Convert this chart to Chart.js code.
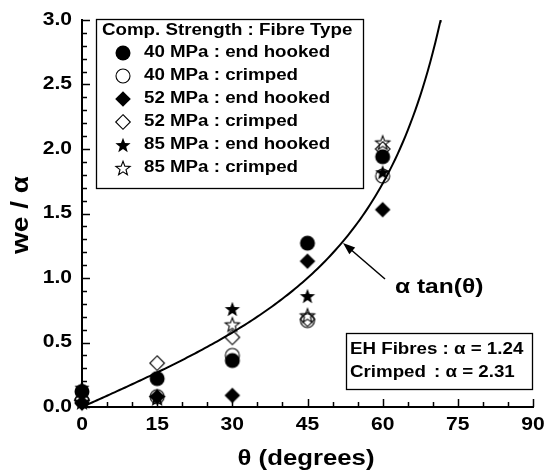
<!DOCTYPE html>
<html>
<head>
<meta charset="utf-8">
<script src="https://cdn.jsdelivr.net/npm/chart.js@4.4.1/dist/chart.umd.min.js"></script>
<style>
  html, body { margin: 0; padding: 0; background: #fff; }
</style>
</head>
<body>
<canvas id="chart" width="545" height="473"></canvas>
<script>
// Data (we/alpha against fibre angle)
const angles = [0, 15, 30, 45, 60];
const mpa40EndHooked = [0.12, 0.22, 0.36, 1.27, 1.94];
const mpa40Crimped   = [0.05, 0.08, 0.40, 0.67, 1.79];
const mpa52EndHooked = [0.03, 0.08, 0.09, 1.13, 1.53];
const mpa52Crimped   = [0.06, 0.34, 0.54, 0.68, 2.00];
const mpa85EndHooked = [0.15, 0.08, 0.76, 0.86, 1.82];
const mpa85Crimped   = [0.04, 0.07, 0.64, 0.71, 2.05];

const seriesLabels = [
  '40 MPa : end hooked', '40 MPa : crimped',
  '52 MPa : end hooked', '52 MPa : crimped',
  '85 MPa : end hooked', '85 MPa : crimped'
];
const xTicks = [0, 15, 30, 45, 60, 75, 90];
const yTicks = [0.0, 0.5, 1.0, 1.5, 2.0, 2.5, 3.0];

// model curve: alpha * tan(theta), normalised by alpha
const fitCoef = 1.0;
const curveStep = 0.5;
const curveEnd = Math.atan(3.0 / fitCoef) * 180 / Math.PI;

const FONT = '"Liberation Sans", Arial, sans-serif';
const SX = 1.17; // the original lettering is a little wider than Arial

function makeMarker(shape, filled) {
  const s = 20, m = s / 2;
  const c = document.createElement('canvas');
  c.width = s; c.height = s;
  const g = c.getContext('2d');
  g.strokeStyle = '#000';
  g.fillStyle = '#000';
  g.lineWidth = 1.1;
  g.beginPath();
  if (shape === 'circle') {
    g.arc(m, m, filled ? 7.5 : 7, 0, Math.PI * 2);
  } else if (shape === 'diamond') {
    const r = filled ? 7.8 : 7.3;
    g.moveTo(m, m - r); g.lineTo(m + r, m); g.lineTo(m, m + r); g.lineTo(m - r, m);
    g.closePath();
  } else {
    const ro = filled ? 8 : 7.5, ri = ro * 0.42;
    for (let i = 0; i < 10; i++) {
      const r = i % 2 ? ri : ro;
      const a = -Math.PI / 2 + i * Math.PI / 5;
      const px = m + r * Math.cos(a), py = m + 0.7 + r * Math.sin(a);
      if (i === 0) g.moveTo(px, py); else g.lineTo(px, py);
    }
    g.closePath();
  }
  if (filled) g.fill(); else g.stroke();
  return c;
}

const markers = [
  makeMarker('circle', true), makeMarker('circle', false),
  makeMarker('diamond', true), makeMarker('diamond', false),
  makeMarker('star', true), makeMarker('star', false)
];
const seriesValues = [mpa40EndHooked, mpa40Crimped, mpa52EndHooked, mpa52Crimped, mpa85EndHooked, mpa85Crimped];

const curvePts = [];
for (let t = 0; t < curveEnd; t += curveStep) {
  curvePts.push({ x: t, y: fitCoef * Math.tan(t * Math.PI / 180) });
}
curvePts.push({ x: curveEnd, y: 3.0 });

const datasets = seriesValues.map((vals, i) => ({
  label: seriesLabels[i],
  data: angles.map((a, j) => ({ x: a, y: vals[j] })),
  pointStyle: markers[i],
  pointRadius: 8,
  clip: false
}));
datasets.push({
  type: 'line',
  label: 'alpha tan(theta)',
  data: curvePts,
  borderColor: '#000',
  borderWidth: 2,
  pointRadius: 0,
  fill: false,
  tension: 0,
  clip: false
});

// draw text widened horizontally by SX
function wideText(ctx, text, x, y, align) {
  const w = ctx.measureText(text).width * SX;
  const left = align === 'center' ? x - w / 2 : align === 'right' ? x - w : x;
  ctx.save();
  ctx.translate(left, y);
  ctx.scale(SX, 1);
  ctx.textAlign = 'left';
  ctx.fillText(text, 0, 0);
  ctx.restore();
  return w;
}

const decorations = {
  id: 'decorations',
  afterDraw(chart) {
    const ctx = chart.ctx;
    const xs = chart.scales.x, ys = chart.scales.y;
    const area = chart.chartArea;
    ctx.save();
    ctx.strokeStyle = '#000';
    ctx.fillStyle = '#000';

    // inward ticks
    ctx.lineWidth = 1.5;
    for (let i = 0; i <= 30; i++) {
      const py = Math.round(ys.getPixelForValue(i / 10)) + 0.5;
      const len = i % 5 === 0 ? 8 : 5;
      ctx.beginPath();
      ctx.moveTo(area.left, py);
      ctx.lineTo(area.left + len, py);
      ctx.stroke();
    }
    for (let d = 0; d <= 90; d += 5) {
      const px = Math.round(xs.getPixelForValue(d)) + 0.5;
      const len = d % 15 === 0 ? 8 : 5;
      ctx.beginPath();
      ctx.moveTo(px, area.bottom);
      ctx.lineTo(px, area.bottom - len);
      ctx.stroke();
    }

    // tick labels
    ctx.textBaseline = 'middle';
    ctx.font = 'bold 18px ' + FONT;
    xs.ticks.forEach(t => wideText(ctx, String(t.value), xs.getPixelForValue(t.value), 425, 'center'));
    ys.ticks.forEach(t => wideText(ctx, t.value.toFixed(1), 72, ys.getPixelForValue(t.value), 'right'));

    // legend box
    ctx.lineWidth = 1.3;
    ctx.strokeRect(96.5, 19.5, 267, 169);
    ctx.font = 'bold 16px ' + FONT;
    wideText(ctx, 'Comp. Strength : Fibre Type', 102, 31, 'left');
    for (let i = 0; i < seriesLabels.length; i++) {
      const cy = 53 + i * 23;
      ctx.drawImage(markers[i], 123 - 10, cy - 10);
      wideText(ctx, seriesLabels[i], 144, cy, 'left');
    }

    // coefficient box
    ctx.strokeRect(346.5, 333.5, 186, 56);
    wideText(ctx, 'EH Fibres : \u03b1 = 1.24', 350, 350, 'left');
    wideText(ctx, 'Crimped', 350, 373, 'left');
    wideText(ctx, ': \u03b1 = 2.31', 434, 373, 'left');

    // arrow to curve
    const ax0 = 385, ay0 = 279, ax1 = 343, ay1 = 243;
    ctx.lineWidth = 1.5;
    ctx.beginPath();
    ctx.moveTo(ax0, ay0);
    ctx.lineTo(ax1 + 6, ay1 + 5);
    ctx.stroke();
    const ang = Math.atan2(ay1 - ay0, ax1 - ax0);
    ctx.beginPath();
    ctx.moveTo(ax1, ay1);
    ctx.lineTo(ax1 - 13 * Math.cos(ang - 0.35), ay1 - 13 * Math.sin(ang - 0.35));
    ctx.lineTo(ax1 - 13 * Math.cos(ang + 0.35), ay1 - 13 * Math.sin(ang + 0.35));
    ctx.closePath();
    ctx.fill();
    ctx.textBaseline = 'alphabetic';
    ctx.font = 'bold 21px ' + FONT;
    wideText(ctx, '\u03b1 tan(\u03b8)', 395, 293, 'left');

    // x title
    ctx.font = 'bold 22px ' + FONT;
    wideText(ctx, '\u03b8 (degrees)', 306, 465, 'center');

    // y title
    ctx.save();
    ctx.translate(28, 215);
    ctx.rotate(-Math.PI / 2);
    ctx.font = 'bold 24px ' + FONT;
    wideText(ctx, 'we / \u03b1', 0, 0, 'center');
    ctx.restore();

    ctx.restore();
  }
};

new Chart(document.getElementById('chart'), {
  type: 'scatter',
  data: { datasets: datasets },
  options: {
    responsive: false,
    animation: false,
    events: [],
    layout: { padding: { top: 20, right: 12, left: 0, bottom: 0 } },
    plugins: { legend: { display: false }, tooltip: { enabled: false } },
    scales: {
      x: {
        type: 'linear',
        min: 0, max: 90,
        afterBuildTicks: s => { s.ticks = xTicks.map(v => ({ value: v })); },
        afterFit: s => { s.height = 66; s.paddingLeft = 0; s.paddingRight = 0; },
        grid: { display: false },
        border: { display: true, color: '#000', width: 2 },
        ticks: { display: false }
      },
      y: {
        type: 'linear',
        min: 0, max: 3,
        afterBuildTicks: s => { s.ticks = yTicks.map(v => ({ value: v })); },
        afterFit: s => { s.width = 82; s.paddingTop = 0; s.paddingBottom = 0; },
        grid: { display: false },
        border: { display: true, color: '#000', width: 2 },
        ticks: { display: false }
      }
    }
  },
  plugins: [decorations]
});
</script>
</body>
</html>
